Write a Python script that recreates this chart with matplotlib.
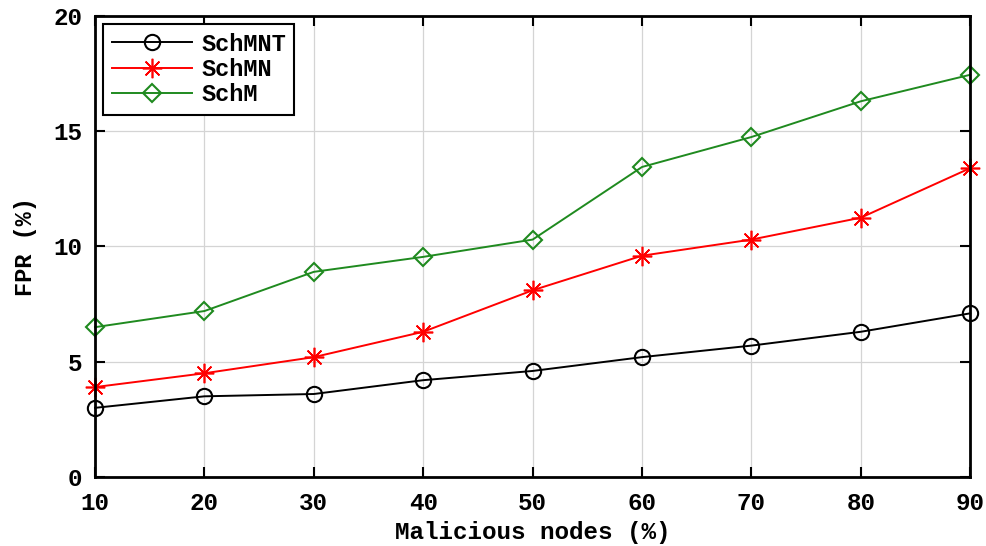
import matplotlib
matplotlib.use("Agg")
import matplotlib.pyplot as plt

# data
nodes = [10, 20, 30, 40, 50, 60, 70, 80, 90]
schmnt = [3.0, 3.5, 3.6, 4.2, 4.6, 5.2, 5.7, 6.3, 7.1]
schmn = [3.9, 4.5, 5.2, 6.3, 8.1, 9.6, 10.3, 11.25, 13.4]
schm = [6.5, 7.2, 8.9, 9.55, 10.3, 13.45, 14.75, 16.3, 17.45]

plt.rcParams["font.family"] = ["Liberation Mono", "DejaVu Sans Mono"]
plt.rcParams["font.weight"] = "bold"

fig = plt.figure(figsize=(9.87, 5.46), dpi=100)
ax = fig.add_axes([0.0963, 0.1264, 0.8867, 0.8443])

ax.plot(nodes, schmnt, color="black", marker="o", markersize=11,
        markerfacecolor="none", markeredgewidth=1.5, linewidth=1.4,
        label="SchMNT", clip_on=False, zorder=3)
ax.plot(nodes, schmn, color="red", marker=(8, 2, 0), markersize=14,
        markeredgewidth=1.2, linewidth=1.4, label="SchMN",
        clip_on=False, zorder=3)
ax.plot(nodes, schm, color="#1f8a1f", marker="D", markersize=9,
        markerfacecolor="none", markeredgewidth=1.5, linewidth=1.4,
        label="SchM", clip_on=False, zorder=3)

ax.set_xlim(10, 90)
ax.set_ylim(0, 20)
ax.set_xticks(nodes)
ax.set_yticks([0, 5, 10, 15, 20])
ax.grid(True, color="#d4d4d4", linewidth=0.9)
ax.set_axisbelow(True)
ax.tick_params(direction="in", top=True, right=True, length=7, width=1.5,
               labelsize=17.5)
ax.tick_params(axis="x", pad=11)
ax.tick_params(axis="y", pad=9)
for s in ax.spines.values():
    s.set_linewidth(2)
    s.set_zorder(4)

ax.set_xlabel("Malicious nodes (%)", fontsize=17.5, fontweight="bold", labelpad=4)
ax.set_ylabel("FPR (%)", fontsize=17, fontweight="bold", labelpad=12)

leg = ax.legend(loc="upper left", fontsize=17, handlelength=3.4,
                fancybox=False, edgecolor="black", framealpha=1,
                borderaxespad=0.35, labelspacing=0.1, borderpad=0.35,
                handletextpad=0.4)
leg.get_frame().set_linewidth(1.5)
leg.set_zorder(5)

fig.savefig("out.png", dpi=100)
